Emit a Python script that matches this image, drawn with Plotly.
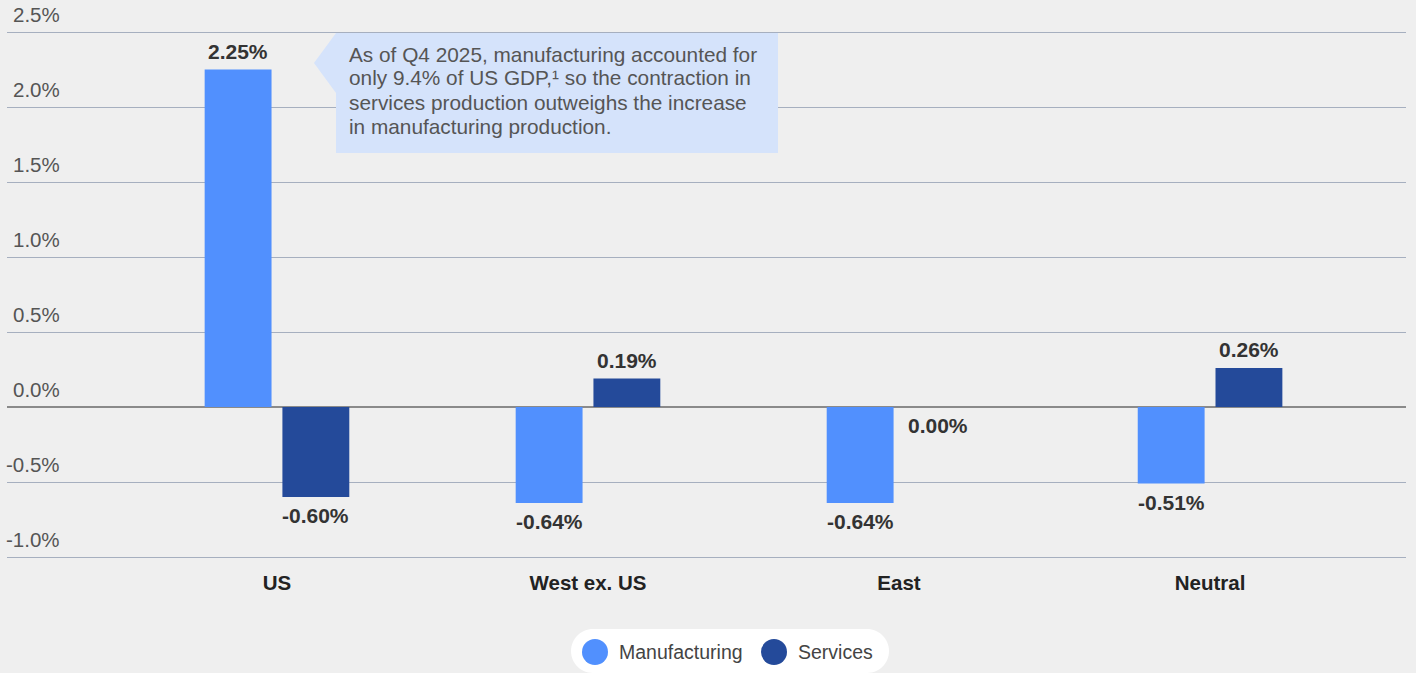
import plotly.graph_objects as go

# Change in production by region, percent
regions = ["US", "West ex. US", "East", "Neutral"]
series_names = ["Manufacturing", "Services"]
manufacturing = [2.25, -0.64, -0.64, -0.51]
services = [-0.60, 0.19, 0.00, 0.26]
y_ticks = [-1.0, -0.5, 0.0, 0.5, 1.0, 1.5, 2.0, 2.5]
note_lines = [
    "As of Q4 2025, manufacturing accounted for",
    "only 9.4% of US GDP,¹ so the contraction in",
    "services production outweighs the increase",
    "in manufacturing production.",
]

colors = ["#5190fe", "#244a9a"]
bg = "#efefef"
font_family = "Liberation Sans, Arial, sans-serif"

W, H = 1416, 673
# 3px of headroom above and below the outer gridlines
PAD_PX = 3
Y_MIN, Y_MAX = -1.0, 2.5
PX_PER_UNIT = 150.0
L, R, T, B = 7, 10, 32 - PAD_PX, 116 - PAD_PX
PW, PH = W - L - R, H - T - B
y_pad = PAD_PX / PX_PER_UNIT


def paper(px, py):
    """Convert window pixel coordinates to paper coordinates."""
    return (px - L) / PW, (H - B - py) / PH


def path_from(points_cmds):
    out = []
    for cmd, pts in points_cmds:
        coords = " ".join("%.5f,%.5f" % paper(x, y) for x, y in pts)
        out.append(cmd + " " + coords if pts else cmd)
    return " ".join(out)


fig = go.Figure()
for name, vals, col in zip(series_names, [manufacturing, services], colors):
    fig.add_trace(go.Bar(name=name, x=regions, y=vals, marker_color=col,
                         marker_line_width=0, showlegend=False))

annotations = []
shapes = []

# Value labels above positive bars, below zero / negative bars
for k, vals in enumerate([manufacturing, services]):
    off = -0.125 if k == 0 else 0.125
    for i, v in enumerate(vals):
        pos = v > 0
        annotations.append(dict(
            x=i + off, y=v, xref="x", yref="y", text="%.2f%%" % v,
            showarrow=False, yanchor="bottom" if pos else "top",
            yshift=5 if pos else -5,
            font=dict(family=font_family, size=21, color="#333333", weight="bold"),
        ))

# Y tick labels sitting above their gridlines
for t in y_ticks:
    annotations.append(dict(
        x=(62 - L) / PW, y=t, xref="paper", yref="y", text="%.1f%%" % t,
        showarrow=False, xanchor="right", yanchor="bottom", yshift=4,
        font=dict(family=font_family, size=20.5, color="#555555"),
    ))

# Callout box with pointer
shapes.append(dict(
    type="path", xref="paper", yref="paper", layer="above",
    path=path_from([("M", [(336, 33)]), ("L", [(778, 33)]), ("L", [(778, 153)]),
                    ("L", [(336, 153)]), ("L", [(336, 93)]), ("L", [(314, 63)]),
                    ("Z", [])]),
    fillcolor="#d5e3fb", line=dict(width=0),
))
for j, line in enumerate(note_lines):
    nx, ny = paper(347, 54 + 24 * j)
    annotations.append(dict(
        x=nx, y=ny, xref="paper", yref="paper", text=line,
        showarrow=False, xanchor="left", yanchor="middle", align="left",
        font=dict(family=font_family, size=20.8, color="#555555"),
    ))

# Legend pill
x0, x1, top, bot = 571, 889, 629, 673
r = (bot - top) / 2
k = 0.5523 * r
shapes.append(dict(
    type="path", xref="paper", yref="paper", layer="above",
    path=path_from([
        ("M", [(x0 + r, top)]), ("L", [(x1 - r, top)]),
        ("C", [(x1 - r + k, top), (x1, top + r - k), (x1, top + r)]),
        ("C", [(x1, top + r + k), (x1 - r + k, bot), (x1 - r, bot)]),
        ("L", [(x0 + r, bot)]),
        ("C", [(x0 + r - k, bot), (x0, top + r + k), (x0, top + r)]),
        ("C", [(x0, top + r - k), (x0 + r - k, top), (x0 + r, top)]),
        ("Z", []),
    ]),
    fillcolor="#ffffff", line=dict(width=0),
))
legend_cx = [595, 774]
cy = 652
rad = 13
for name, col, cx in zip(series_names, colors, legend_cx):
    ax0, ay0 = paper(cx - rad, cy + rad)
    ax1, ay1 = paper(cx + rad, cy - rad)
    shapes.append(dict(type="circle", xref="paper", yref="paper", layer="above",
                       x0=ax0, y0=ay0, x1=ax1, y1=ay1,
                       fillcolor=col, line=dict(width=0)))
    tx, ty = paper(cx + 22, cy)
    annotations.append(dict(
        x=tx, y=ty, xref="paper", yref="paper", text=name, showarrow=False,
        xanchor="left", yanchor="middle",
        font=dict(family=font_family, size=19.5, color="#444444"),
    ))

fig.update_layout(
    width=W, height=H,
    margin=dict(l=L, r=R, t=T, b=B, pad=0),
    paper_bgcolor=bg, plot_bgcolor=bg,
    barmode="group", bargap=0.5, bargroupgap=0.14,
    font=dict(family=font_family),
    annotations=annotations, shapes=shapes,
    xaxis=dict(
        type="category", range=[-0.868, 3.63], showgrid=False, zeroline=False,
        showline=False, ticks="", ticklabelstandoff=8,
        tickfont=dict(family=font_family, size=20.5, color="#222222", weight="bold"),
    ),
    yaxis=dict(
        range=[Y_MIN - y_pad, Y_MAX + y_pad], tickvals=y_ticks, showticklabels=False,
        showgrid=True, gridcolor="#a6afbf", gridwidth=1,
        zeroline=True, zerolinecolor="#8a8a8a", zerolinewidth=1.5,
        showline=False, fixedrange=True,
    ),
)

fig.write_html("out.html")
